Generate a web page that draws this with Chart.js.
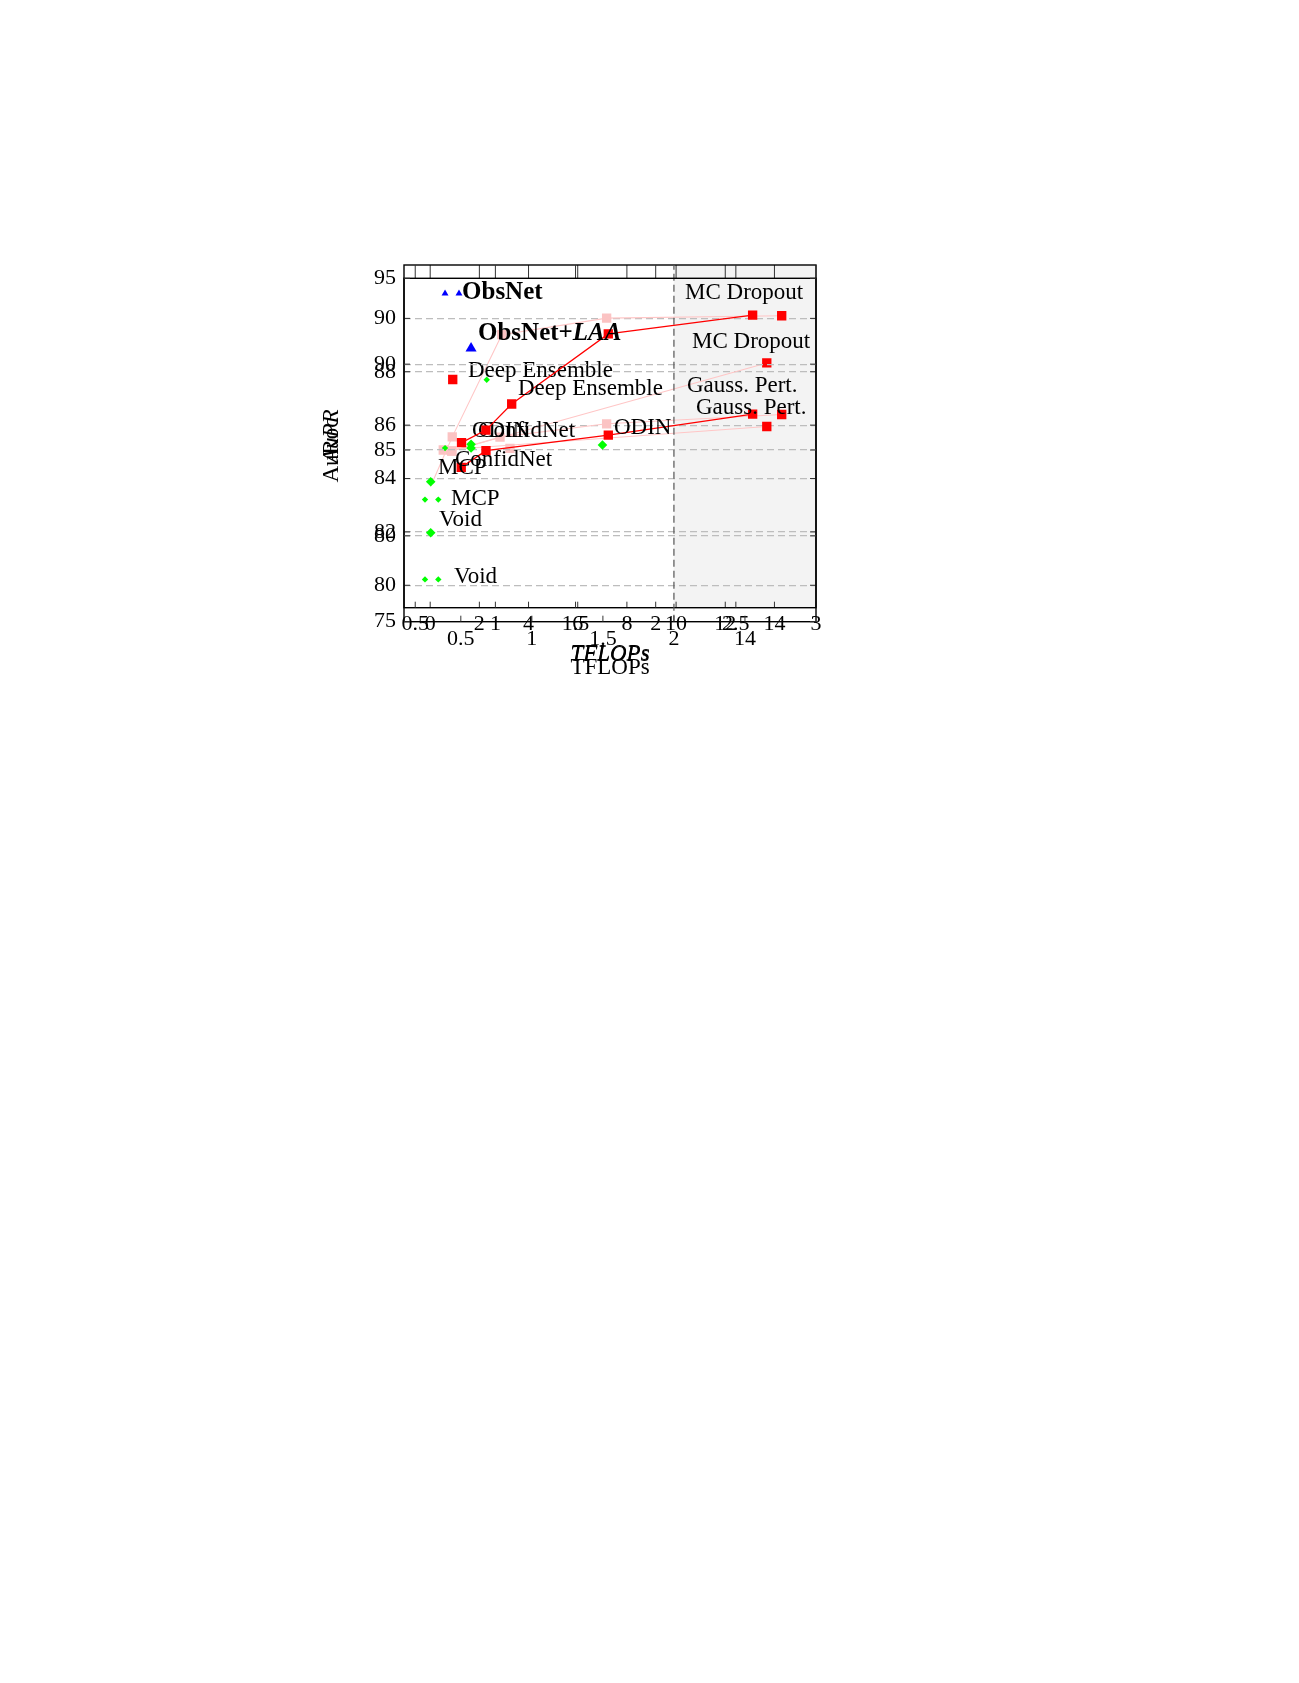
<!DOCTYPE html>
<html>
<head>
<meta charset="utf-8">
<script src="https://cdn.jsdelivr.net/npm/chart.js@4.4.1/dist/chart.umd.min.js"></script>
<style>
  body { margin: 0; background: #fff; }
  canvas { position: absolute; left: 0; top: 0; }
</style>
</head>
<body>
<canvas id="chartC" width="1299" height="1683"></canvas>
<canvas id="chartB" width="1299" height="1683"></canvas>
<canvas id="chartA" width="1299" height="1683"></canvas>
<script>
// ---- plot A (AuRoc, 75..95, x broken after 2 TFLOPs) ----
const xTicksA = [0.5, 1, 1.5, 2, 2.5];
const xTickLabelsA = ['0.5', '1', '1.5', '2', '14'];
const yTicksA = [75, 80, 85, 90, 95];
const breakA = 2;

const obsnetLaaX = [0.572];
const obsnetLaaY = [90.92];
const laaTopX = [0.505, 0.677, 0.858, 1.538, 2.554];
const laaTopY = [85.43, 86.16, 87.68, 91.76, 92.86];
const laaLowX = [0.503, 0.677, 1.538, 2.554];
const laaLowY = [83.99, 84.96, 85.87, 87.09];
const greenAX = [0.572, 0.572, 1.497, 0.288, 0.288];
const greenAY = [85.33, 85.12, 85.29, 83.15, 80.18];

const notesA = ['ObsNet+LAA', 'MC Dropout', 'Deep Ensemble', 'Gauss. Pert.', 'ODIN', 'ConfidNet', 'MCP', 'Void'];
const notesAX = [0.621, 2.127, 0.902, 2.155, 1.578, 0.459, 0.339, 0.346];
const notesAY = [91.81, 91.29, 88.55, 87.45, 86.28, 84.42, 83.95, 80.93];

// ---- plot B (AuPR, 80..90) ----
const xTicksB = [0.5, 1, 1.5, 2, 2.5, 3];
const xTickLabelsB = ['0.5', '1', '1.5', '2', '2.5', '3'];
const yTicksB = [80, 82, 84, 86, 88, 90];

const obsnetX = [0.686, 0.773];
const obsnetY = [90.93, 90.93];
const greenBX = [0.946, 0.686, 0.561, 0.644, 0.561, 0.644];
const greenBY = [87.70, 85.14, 83.21, 83.21, 80.22, 80.22];
const ensembleX = [0.734];
const ensembleY = [87.71];
const fade1X = [0.596, 0.731, 1.040, 1.694, 2.786];
const fade1Y = [83.70, 85.56, 89.39, 90.01, 90.10];
const fade2X = [0.728, 1.029, 1.694, 2.786];
const fade2Y = [85.03, 85.55, 86.05, 86.40];
const fade3X = [0.728, 2.693];
const fade3Y = [85.03, 88.33];
const fade4X = [0.675, 2.693];
const fade4Y = [85.07, 85.95];
const fadeDotX = [1.091];
const fadeDotY = [85.13];

const notesB = ['ObsNet', 'MC Dropout', 'Deep Ensemble', 'Gauss. Pert.', 'ODIN', 'ConfidNet', 'MCP', 'Void'];
const notesBX = [0.792, 2.183, 0.829, 2.195, 0.854, 0.892, 0.723, 0.742];
const notesBY = [90.96, 90.96, 88.04, 87.48, 85.80, 85.80, 83.22, 80.30];

// ---- plot C (second TFLOPs axis, 0..14) ----
const xTicksC = [0, 2, 4, 6, 8, 10, 12, 14];
const shadeFromC = 9.9;

const FONT = 'Liberation Serif';
const NOTE_SIZE = 23;
const BOLD_SIZE = 25;
const RED = '#ff0000';
const PINK = '#fbc3c3';
const PINK_LINE = '#ffc6c6';
const GREEN = '#00ff00';
const BLUE = '#0000ff';

function pts(xs, ys) {
  return xs.map((x, i) => ({ x: x, y: ys[i] }));
}

function fixAxis(size) {
  return function (scale) {
    if (scale.isHorizontal()) scale.height = size;
    else scale.width = size;
    scale.paddingTop = 0; scale.paddingBottom = 0;
    scale.paddingLeft = 0; scale.paddingRight = 0;
  };
}

function setTicks(values) {
  return function (scale) {
    scale.ticks = values.map(v => ({ value: v }));
  };
}

const framePlugin = {
  id: 'frame',
  afterDraw(chart, args, opts) {
    const ctx = chart.ctx;
    const a = chart.chartArea;
    ctx.save();
    if (opts.box) {
      ctx.strokeStyle = '#000';
      ctx.lineWidth = 1.4;
      ctx.strokeRect(a.left, a.top, a.right - a.left, a.bottom - a.top);
    }
    ctx.strokeStyle = '#333';
    ctx.lineWidth = 1;
    Object.values(chart.scales).forEach(s => {
      if (!s.options.display) return;
      s.ticks.forEach(t => {
        const p = s.getPixelForValue(t.value);
        ctx.beginPath();
        if (s.isHorizontal()) {
          ctx.moveTo(p, a.bottom); ctx.lineTo(p, a.bottom - opts.tickBottom);
          ctx.moveTo(p, a.top); ctx.lineTo(p, a.top + opts.tickTop);
        } else {
          ctx.moveTo(a.left, p); ctx.lineTo(a.left + 6, p);
          ctx.moveTo(a.right, p); ctx.lineTo(a.right - 6, p);
        }
        ctx.stroke();
      });
    });
    ctx.restore();
  }
};

const notePlugin = {
  id: 'notes',
  afterDatasetsDraw(chart, args, opts) {
    if (!opts.text) return;
    const ctx = chart.ctx;
    const x = chart.scales.x, y = chart.scales.y;
    ctx.save();
    ctx.fillStyle = '#000';
    ctx.textBaseline = 'middle';
    ctx.textAlign = 'left';
    opts.text.forEach((t, i) => {
      let px = x.getPixelForValue(opts.xs[i]);
      const py = y.getPixelForValue(opts.ys[i]);
      if (t.startsWith('ObsNet')) {
        const parts = t.split('+');
        const head = parts.length > 1 ? parts[0] + '+' : parts[0];
        ctx.font = 'bold ' + BOLD_SIZE + 'px "' + FONT + '"';
        ctx.fillText(head, px, py);
        if (parts.length > 1) {
          px += ctx.measureText(head).width;
          ctx.font = 'italic bold ' + BOLD_SIZE + 'px "' + FONT + '"';
          ctx.fillText(parts[1], px, py);
        }
      } else {
        ctx.font = NOTE_SIZE + 'px "' + FONT + '"';
        ctx.fillText(t, px, py);
      }
    });
    ctx.restore();
  }
};

const shadePlugin = {
  id: 'shade',
  beforeDraw(chart, args, opts) {
    if (opts.from == null) return;
    const ctx = chart.ctx;
    const a = chart.chartArea;
    const px = chart.scales.x.getPixelForValue(opts.from);
    ctx.save();
    ctx.fillStyle = '#f3f3f3';
    ctx.fillRect(px, a.top, a.right - px, a.bottom - a.top);
    ctx.restore();
  }
};

const tickFont = { family: FONT, size: 22 };
const titleFont = { family: FONT, size: 23 };

function marks(data, style, radius, color) {
  return {
    data: data,
    pointStyle: style,
    pointRadius: radius,
    pointBackgroundColor: color,
    pointBorderWidth: 0,
    borderWidth: 0,
    showLine: false
  };
}

function fadedLine(xs, ys, first) {
  const bg = xs.map((v, i) => i === xs.length - 1 ? RED : PINK);
  const r = xs.map((v, i) => (i === 0 && first === 0) ? 0 : 6.6);
  return {
    data: pts(xs, ys),
    showLine: true,
    borderColor: PINK_LINE,
    borderWidth: 1.1,
    pointStyle: 'rect',
    pointRadius: r,
    pointBackgroundColor: bg,
    pointBorderWidth: 0
  };
}

function redLine(xs, ys) {
  return {
    data: pts(xs, ys),
    showLine: true,
    borderColor: RED,
    borderWidth: 1.3,
    pointStyle: 'rect',
    pointRadius: 6.6,
    pointBackgroundColor: RED,
    pointBorderWidth: 0
  };
}

// ---- chart C: 0..14 axis and the shaded region ----
new Chart(document.getElementById('chartC'), {
  type: 'scatter',
  data: { datasets: [] },
  plugins: [shadePlugin, framePlugin],
  options: {
    responsive: false,
    animation: false,
    events: [],
    layout: { padding: { left: 404, top: 265, right: 483, bottom: 1683 - 607.7 - 66 } },
    plugins: {
      legend: { display: false },
      tooltip: { enabled: false },
      shade: { from: shadeFromC },
      frame: { box: false, tickTop: 13, tickBottom: 6 }
    },
    scales: {
      x: {
        type: 'linear', min: -1.065, max: 15.69,
        afterBuildTicks: setTicks(xTicksC),
        afterFit: fixAxis(66),
        grid: { display: false },
        border: { display: false },
        ticks: { font: tickFont, color: '#000', padding: -5, maxRotation: 0, autoSkip: false },
        title: { display: true, text: 'TFLOPs', font: Object.assign({ style: 'italic' }, titleFont), color: '#000', padding: { top: 0, bottom: 5 } }
      },
      y: { type: 'linear', min: 79.16, max: 92, display: false }
    }
  }
});

// ---- chart B ----
new Chart(document.getElementById('chartB'), {
  type: 'scatter',
  data: {
    datasets: [
      marks(pts(obsnetX, obsnetY), 'triangle', 4, BLUE),
      marks(pts(greenBX, greenBY), 'rectRot', 3.2, GREEN),
      marks(pts(ensembleX, ensembleY), 'rect', 6.6, RED),
      marks(pts(fadeDotX, fadeDotY), 'rect', 6.6, PINK),
      fadedLine(fade1X, fade1Y, 0),
      fadedLine(fade2X, fade2Y, 1),
      fadedLine(fade3X, fade3Y, 1),
      fadedLine(fade4X, fade4Y, 1)
    ]
  },
  plugins: [framePlugin, notePlugin],
  options: {
    responsive: false,
    animation: false,
    events: [],
    layout: { padding: { left: 318, top: 265, right: 483, bottom: 1683 - 607.7 - 64 } },
    plugins: {
      legend: { display: false },
      tooltip: { enabled: false },
      frame: { box: true, tickTop: 13, tickBottom: 6 },
      notes: { text: notesB, xs: notesBX, ys: notesBY }
    },
    scales: {
      x: {
        type: 'linear', min: 0.43, max: 3,
        afterBuildTicks: setTicks(xTicksB),
        afterFit: fixAxis(64),
        grid: { display: false },
        border: { display: false },
        ticks: {
          font: tickFont, color: '#000', padding: -5, maxRotation: 0, autoSkip: false,
          callback: (v, i) => xTickLabelsB[i]
        },
        title: { display: true, text: 'TFLOPs', font: Object.assign({ style: 'italic' }, titleFont), color: '#000', padding: { top: 0, bottom: 4 } }
      },
      y: {
        type: 'linear', min: 79.16, max: 92,
        afterBuildTicks: setTicks(yTicksB),
        afterFit: fixAxis(86),
        grid: { color: '#bdbdbd', lineWidth: 1.2, drawTicks: false },
        border: { display: false, dash: [7, 4] },
        ticks: { font: tickFont, color: '#000', padding: 8 },
        title: { display: true, text: 'AuPR', font: Object.assign({ style: 'italic' }, titleFont), color: '#000', padding: 0 }
      }
    }
  }
});

// ---- chart A ----
new Chart(document.getElementById('chartA'), {
  type: 'scatter',
  data: {
    datasets: [
      marks(pts(greenAX, greenAY), 'rectRot', 4.8, GREEN),
      marks(pts(obsnetLaaX, obsnetLaaY), 'triangle', 6.4, BLUE),
      redLine(laaTopX, laaTopY),
      redLine(laaLowX, laaLowY),
      {
        data: [{ x: breakA, y: 75 }, { x: breakA, y: 95.77 }],
        showLine: true,
        clip: false,
        borderColor: '#555',
        borderWidth: 1.2,
        borderDash: [7, 4],
        pointRadius: 0
      }
    ]
  },
  plugins: [framePlugin, notePlugin],
  options: {
    responsive: false,
    animation: false,
    events: [],
    layout: { padding: { left: 318, top: 278.3, right: 483, bottom: 1683 - 621.7 - 60 } },
    plugins: {
      legend: { display: false },
      tooltip: { enabled: false },
      frame: { box: true, tickTop: 0, tickBottom: 6 },
      notes: { text: notesA, xs: notesAX, ys: notesAY }
    },
    scales: {
      x: {
        type: 'linear', min: 0.1, max: 3.0,
        afterBuildTicks: setTicks(xTicksA),
        afterFit: fixAxis(60),
        grid: { display: false },
        border: { display: false },
        ticks: {
          font: tickFont, color: '#000', padding: -4, maxRotation: 0, autoSkip: false,
          callback: (v, i) => xTickLabelsA[i]
        },
        title: { display: true, text: 'TFLOPs', font: titleFont, color: '#000', padding: { top: 0, bottom: 0 } }
      },
      y: {
        type: 'linear', min: 75, max: 95,
        afterBuildTicks: setTicks(yTicksA),
        afterFit: fixAxis(86),
        grid: {
          color: c => (c.tick && (c.tick.value === 75 || c.tick.value === 95)) ? 'rgba(0,0,0,0)' : '#bdbdbd',
          lineWidth: 1.2, drawTicks: false
        },
        border: { display: false, dash: [7, 4] },
        ticks: { font: tickFont, color: '#000', padding: 8 },
        title: { display: true, text: 'AuRoc', font: titleFont, color: '#000', padding: 0 }
      }
    }
  }
});
</script>
</body>
</html>
